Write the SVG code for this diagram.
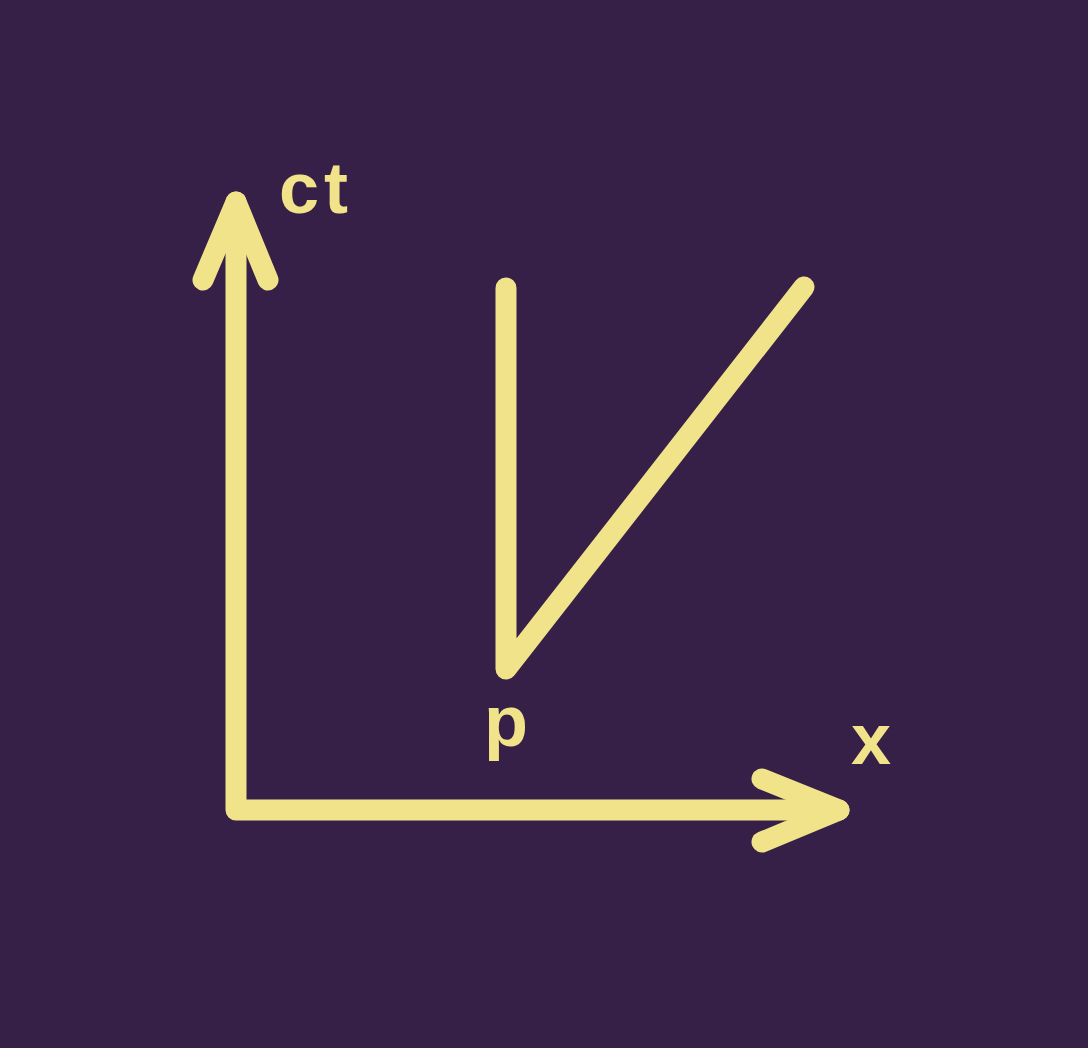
<svg xmlns="http://www.w3.org/2000/svg" width="1088" height="1048" viewBox="0 0 1088 1048">
<style>
.ln{fill:none;stroke:#F1E38A;stroke-width:21;stroke-linecap:round;stroke-linejoin:round}
.lb{fill:#F1E38A;font-family:"Liberation Sans",Arial,sans-serif;font-weight:bold;font-size:72px}
</style>
<rect width="1088" height="1048" fill="#372048"/>
<g id="connectors">
<path class="ln" d="M236 202 L236 810 L839 810"/>
<path class="ln" d="M203 280 L236 202 L268 280"/>
<path class="ln" d="M762 779 L839 810 L762 842"/>
<path class="ln" d="M506 288 L506 669 L804 287"/>
</g>
<g id="label-ct"><text class="lb" x="279" y="213" letter-spacing="5">ct</text></g>
<g id="label-p"><text class="lb" x="506" y="746" text-anchor="middle">p</text></g>
<g id="label-x"><text class="lb" x="871" y="764" text-anchor="middle">x</text></g>
</svg>
